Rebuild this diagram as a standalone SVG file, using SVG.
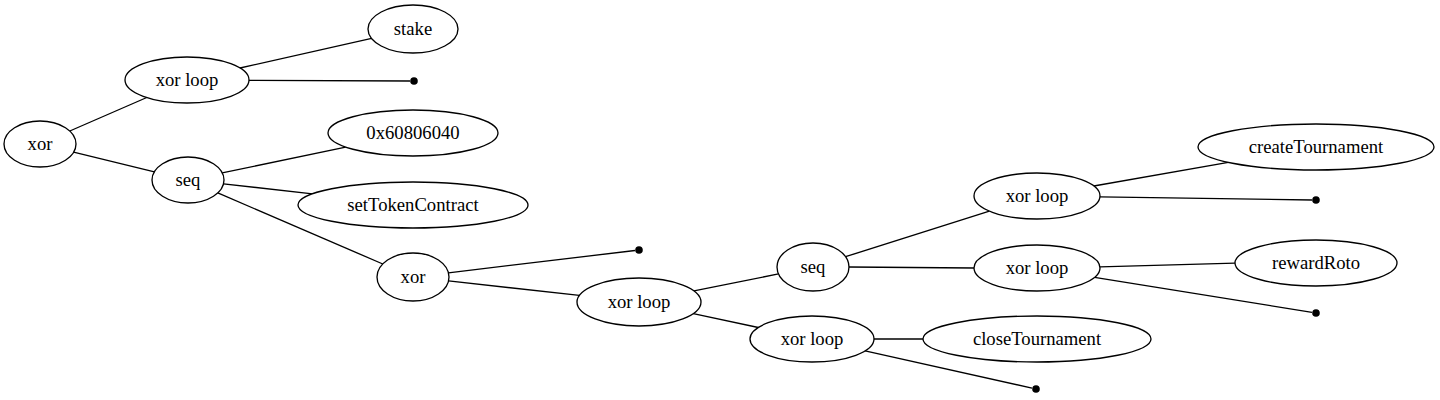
<svg xmlns="http://www.w3.org/2000/svg" width="1440" height="400" viewBox="0 0 1440 400">
<style>
.n ellipse{fill:#fff;stroke:#000;stroke-width:1.33}
text{font-size:18.67px;text-anchor:middle;fill:#000}
.e line{stroke:#000;stroke-width:1.33}
.d{fill:#000}
</style>
<rect width="1440" height="400" fill="#fff"/>
<g id="connectors" class="e">
<line x1="69.8" y1="131" x2="146.8" y2="97.5"/>
<line x1="73.6" y1="152.2" x2="154.4" y2="171.8"/>
<line x1="240" y1="68" x2="371.6" y2="38.4"/>
<line x1="249" y1="80.3" x2="410" y2="81"/>
<line x1="222.2" y1="172.9" x2="345.7" y2="147.1"/>
<line x1="223.5" y1="183.9" x2="312.5" y2="193.8"/>
<line x1="217.8" y1="192.9" x2="382.8" y2="264"/>
<line x1="448.4" y1="272.8" x2="635" y2="250.5"/>
<line x1="448.5" y1="280.9" x2="579.4" y2="295.4"/>
<line x1="694" y1="290.9" x2="778.5" y2="273.9"/>
<line x1="693.3" y1="313.6" x2="758.3" y2="327.5"/>
<line x1="845.5" y1="256.7" x2="989.4" y2="211.1"/>
<line x1="849" y1="267" x2="974" y2="268"/>
<line x1="1093.8" y1="186" x2="1228.3" y2="162.4"/>
<line x1="1100" y1="196.9" x2="1312" y2="200"/>
<line x1="1100" y1="266.9" x2="1235" y2="263.1"/>
<line x1="1094.6" y1="277.3" x2="1312" y2="312.4"/>
<line x1="874" y1="339" x2="923" y2="339"/>
<line x1="865.1" y1="350.9" x2="1032" y2="388.1"/>
</g>
<g font-family="Liberation Serif, serif">
<g id="root" class="n"><ellipse cx="40" cy="144" rx="36" ry="23"/><text x="40" y="150" font-family="Liberation Serif, serif">xor</text></g>
<g id="xorloop1" class="n"><ellipse cx="187" cy="80" rx="62" ry="23"/><text x="187" y="86" font-family="Liberation Serif, serif">xor loop</text></g>
<g id="stake" class="n"><ellipse cx="413" cy="29" rx="45" ry="24"/><text x="413" y="35" font-family="Liberation Serif, serif">stake</text></g>
<g id="end1"><circle class="d" cx="414" cy="81" r="3.8"/></g>
<g id="seq1" class="n"><ellipse cx="188" cy="180" rx="36" ry="23"/><text x="188" y="186" font-family="Liberation Serif, serif">seq</text></g>
<g id="hex" class="n"><ellipse cx="413" cy="133" rx="85" ry="23"/><text x="413" y="139" font-family="Liberation Serif, serif">0x60806040</text></g>
<g id="setTokenContract" class="n"><ellipse cx="413" cy="205" rx="115" ry="23"/><text x="413" y="211" font-family="Liberation Serif, serif">setTokenContract</text></g>
<g id="xor2" class="n"><ellipse cx="413" cy="277" rx="36" ry="24"/><text x="413" y="283" font-family="Liberation Serif, serif">xor</text></g>
<g id="end2"><circle class="d" cx="639" cy="250" r="3.8"/></g>
<g id="xorloop2" class="n"><ellipse cx="639" cy="302" rx="62" ry="24"/><text x="639" y="308" font-family="Liberation Serif, serif">xor loop</text></g>
<g id="seq2" class="n"><ellipse cx="813" cy="267" rx="36" ry="24"/><text x="813" y="273" font-family="Liberation Serif, serif">seq</text></g>
<g id="xorloop3" class="n"><ellipse cx="812" cy="339" rx="62" ry="23"/><text x="812" y="345" font-family="Liberation Serif, serif">xor loop</text></g>
<g id="xorloop4" class="n"><ellipse cx="1037" cy="196" rx="63" ry="23"/><text x="1037" y="202" font-family="Liberation Serif, serif">xor loop</text></g>
<g id="xorloop5" class="n"><ellipse cx="1037" cy="268" rx="63" ry="23"/><text x="1037" y="274" font-family="Liberation Serif, serif">xor loop</text></g>
<g id="closeTournament" class="n"><ellipse cx="1037" cy="339" rx="114" ry="23"/><text x="1037" y="345" font-family="Liberation Serif, serif">closeTournament</text></g>
<g id="end3"><circle class="d" cx="1036" cy="389" r="3.8"/></g>
<g id="createTournament" class="n"><ellipse cx="1316" cy="147" rx="118" ry="23"/><text x="1316" y="153" font-family="Liberation Serif, serif">createTournament</text></g>
<g id="end4"><circle class="d" cx="1316" cy="200" r="3.8"/></g>
<g id="rewardRoto" class="n"><ellipse cx="1316" cy="263" rx="81" ry="23"/><text x="1316" y="269" font-family="Liberation Serif, serif">rewardRoto</text></g>
<g id="end5"><circle class="d" cx="1316" cy="313" r="3.8"/></g>
</g>
</svg>
